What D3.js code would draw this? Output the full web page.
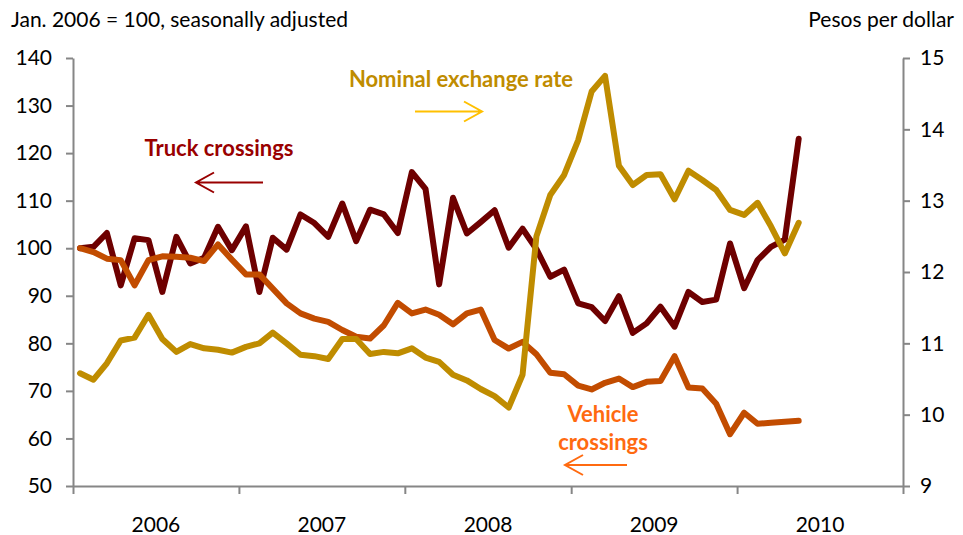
<!DOCTYPE html>
<html>
<head>
<meta charset="utf-8">
<script src="https://cdn.jsdelivr.net/npm/d3@7"></script>
<style>
  body { margin: 0; background: #fff; }
  svg { display: block; font-family: Lato, "Open Sans", sans-serif; }
  .axis path, .axis line { stroke: #868686; stroke-width: 2; }
  .axis text { font-size: 21px; fill: #000; font-family: Lato, sans-serif; }
</style>
</head>
<body>
<svg id="chart" width="963" height="535"></svg>
<script>
// monthly, Jan 2006 - May 2010
var truck = [100, 100.3, 103.2, 92.2, 102.1, 101.7, 90.8, 102.4, 96.8, 98, 104.5, 99.6,
  104.6, 90.8, 102.2, 99.7, 107.1, 105.3, 102.4, 109.4, 101.5, 108.1, 107.1, 103.2,
  116, 112.5, 92.4, 110.6, 103.1, 105.5, 108, 100.1, 104.1, 99.8, 94, 95.5,
  88.4, 87.6, 84.7, 89.9, 82.2, 84.2, 87.7, 83.5, 90.8, 88.7, 89.2, 101,
  91.6, 97.5, 100.3, 101.8, 123];

var vehicle = [100, 99.2, 97.8, 97.5, 92.2, 97.5, 98.3, 98.2, 98, 97.3, 100.8, 97.6,
  94.5, 94.5, 91.5, 88.4, 86.3, 85.2, 84.5, 82.8, 81.4, 81, 83.8, 88.5,
  86.3, 87.1, 86, 84, 86.3, 87.1, 80.7, 78.9, 80.3, 77.7, 73.8, 73.5,
  71.1, 70.3, 71.7, 72.6, 70.8, 71.9, 72.1, 77.3, 70.7, 70.5, 67.3, 60.9,
  65.4, 63.1, 63.3, 63.5, 63.7];

var exchange = [10.58, 10.49, 10.72, 11.04, 11.08, 11.40, 11.06, 10.88, 10.99, 10.93, 10.91, 10.87,
  10.95, 11.0, 11.15, 11.0, 10.84, 10.82, 10.78, 11.06, 11.06, 10.85, 10.88, 10.86,
  10.93, 10.80, 10.74, 10.56, 10.48, 10.36, 10.26, 10.10, 10.56, 12.50, 13.08, 13.36,
  13.85, 14.53, 14.75, 13.49, 13.22, 13.36, 13.37, 13.02, 13.42, 13.29, 13.15, 12.87,
  12.80, 12.97, 12.64, 12.26, 12.69];

var years = [2006, 2007, 2008, 2009, 2010];
var leftTicks = [50, 60, 70, 80, 90, 100, 110, 120, 130, 140];
var rightTicks = [9, 10, 11, 12, 13, 14, 15];

(function () {
  var months = d3.timeMonth.range(new Date(2006, 0, 1), new Date(2006, truck.length, 1));

  var svg = d3.select("#chart");

  var mLeft = 73, mRight = 903, mTop = 58, mBottom = 486;

  var x = d3.scaleTime()
    .domain([new Date(2006, 0, 1), new Date(2011, 0, 1)])
    .range([mLeft, mRight]);

  var yL = d3.scaleLinear().domain([50, 140]).range([mBottom, mTop]);
  var yR = d3.scaleLinear().domain([9, 15]).range([mBottom, mTop]);

  function mid(d) {
    var next = d3.timeMonth.offset(d, 1);
    return x(new Date((d.getTime() + next.getTime()) / 2));
  }

  // axes
  var yearTicks = years.map(function (y) { return new Date(y, 0, 1); }).concat([new Date(2011, 0, 1)]);

  svg.append("g")
    .attr("class", "axis")
    .attr("transform", "translate(0," + mBottom + ")")
    .call(d3.axisBottom(x).tickValues(yearTicks).tickSize(8).tickSizeOuter(0).tickFormat(""));

  svg.append("g")
    .attr("class", "axis")
    .attr("transform", "translate(" + mLeft + ",0)")
    .call(d3.axisLeft(yL).tickValues(leftTicks).tickSize(7).tickSizeOuter(0).tickPadding(14).tickFormat(d3.format("d")));

  svg.append("g")
    .attr("class", "axis")
    .attr("transform", "translate(" + mRight + ",0)")
    .call(d3.axisRight(yR).tickValues(rightTicks).tickSize(7).tickSizeOuter(0).tickPadding(10).tickFormat(d3.format("d")));

  svg.append("g")
    .selectAll("text")
    .data(years)
    .enter()
    .append("text")
    .attr("x", function (d) { return (x(new Date(d, 0, 1)) + x(new Date(d + 1, 0, 1))) / 2; })
    .attr("y", 532)
    .attr("text-anchor", "middle")
    .style("font-size", "21px")
    .text(function (d) { return d; });

  // axis titles
  svg.append("text")
    .attr("x", 11).attr("y", 27)
    .style("font-size", "21px")
    .text("Jan. 2006 = 100, seasonally adjusted");

  svg.append("text")
    .attr("x", 954).attr("y", 27)
    .attr("text-anchor", "end")
    .style("font-size", "21px")
    .text("Pesos per dollar");

  // lines
  var lineL = d3.line()
    .x(function (d, i) { return mid(months[i]); })
    .y(function (d) { return yL(d); });

  var lineR = d3.line()
    .x(function (d, i) { return mid(months[i]); })
    .y(function (d) { return yR(d); });

  function drawLine(path, color) {
    svg.append("path")
      .attr("d", path)
      .attr("fill", "none")
      .attr("stroke", color)
      .attr("stroke-width", 6)
      .attr("stroke-linejoin", "round")
      .attr("stroke-linecap", "round");
  }

  drawLine(lineL(truck), "#6e0000");
  drawLine(lineL(vehicle), "#c24c00");
  drawLine(lineR(exchange), "#bf8c00");

  // labels + arrows
  function label(lines, xPos, yPos, color) {
    var t = svg.append("text")
      .attr("text-anchor", "middle")
      .style("font-size", "22px")
      .style("font-weight", "bold")
      .attr("fill", color);
    lines.forEach(function (s, i) {
      t.append("tspan").attr("x", xPos).attr("y", yPos + i * 28.5).text(s);
    });
  }

  function arrow(x1, x2, yPos, color) {
    var dir = x2 > x1 ? -1 : 1;
    svg.append("path")
      .attr("d", "M" + x1 + "," + yPos + "L" + x2 + "," + yPos +
        "M" + (x2 + dir * 18) + "," + (yPos - 10) + "L" + x2 + "," + yPos + "L" + (x2 + dir * 18) + "," + (yPos + 10))
      .attr("fill", "none")
      .attr("stroke", color)
      .attr("stroke-width", 2);
  }

  label(["Nominal exchange rate"], 461, 87, "#bf8c00");
  arrow(415, 482, 111.5, "#ffc000");

  label(["Truck crossings"], 219, 156, "#990000");
  arrow(263, 196, 182.5, "#990000");

  label(["Vehicle", "crossings"], 603, 421.5, "#ff6a10");
  arrow(627, 565, 465, "#ff6a10");
})();
</script>
</body>
</html>
